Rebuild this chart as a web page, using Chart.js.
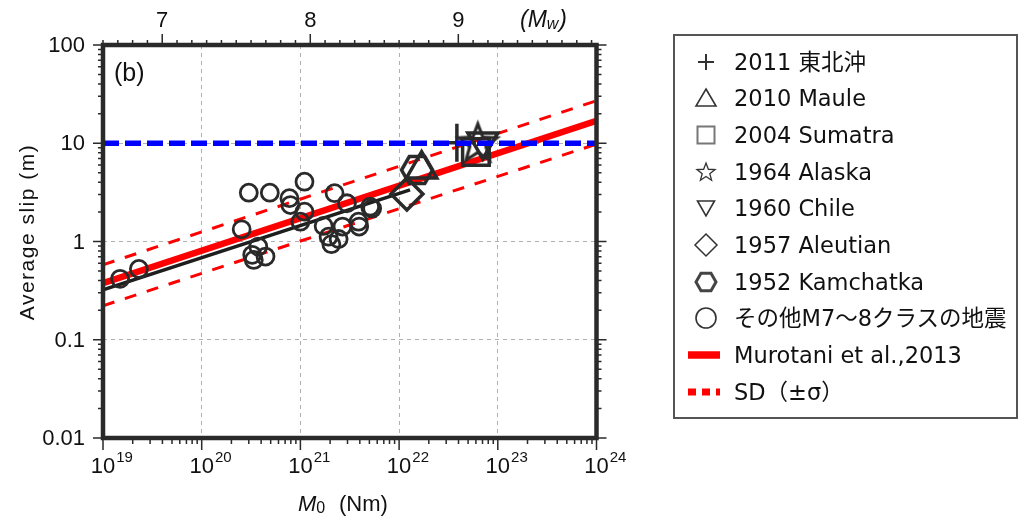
<!DOCTYPE html>
<html>
<head>
<meta charset="utf-8">
<script src="https://cdn.jsdelivr.net/npm/chart.js@4.4.0/dist/chart.umd.min.js"></script>
<style>
body { margin:0; background:#fff; }
#wrap { position:relative; width:1021px; height:516px; }
#legend { position:absolute; left:673px; top:34px; width:345px; height:385px; border:2px solid #555; box-sizing:border-box;
  font-family:"DejaVu Sans","Noto Sans CJK JP",sans-serif; font-size:22.5px; color:#111; }
.row { position:absolute; left:0; width:100%; height:36px; }
.row svg { position:absolute; left:11px; top:0; }
.row span { position:absolute; left:59px; top:0; line-height:36px; white-space:nowrap; }
</style>
</head>
<body>
<div id="wrap">
  <canvas id="chart" width="1021" height="516"></canvas>
  <div id="legend"></div>
</div>
<script>
// 巨大地震 (M0 [Nm], 平均すべり量 [m])
const eventNames = ["2011 東北沖", "2010 Maule", "2004 Sumatra", "1964 Alaska", "1960 Chile", "1957 Aleutian", "1952 Kamchatka"];
const eventM0    = [3.85e22, 1.69e22, 6.0e22, 6.28e22, 7.05e22, 1.2e22, 1.52e22];
const eventSlip  = [10.1, 5.45, 8.15, 9.84, 10.4, 3.05, 5.35];

// その他M7〜8クラスの地震
const otherM0   = [1.49e19, 2.31e19, 2.54e20, 3.0e20, 4.9e20, 7.74e20, 7.92e20, 1.10e21, 1.10e21, 1.0e21,
                   3.74e20, 3.25e20, 4.43e20, 3.37e20, 2.22e21, 2.96e21, 1.72e21, 2.67e21, 1.93e21, 2.44e21,
                   2.06e21, 3.88e21, 3.94e21, 5.09e21, 5.33e21];
const otherSlip = [0.417, 0.526, 1.33, 3.14, 3.14, 2.76, 2.35, 4.06, 2.01, 1.59,
                   0.887, 0.731, 0.702, 0.650, 3.10, 2.45, 1.44, 1.42, 1.12, 1.06,
                   0.94, 1.59, 1.42, 2.26, 2.17];

// Murotani et al. (2013) と ±σ
const fitM0     = [1e19, 1e24];
const fitSlip   = [0.377, 16.9];
const sdUpper   = [0.58, 27.1];
const sdLower   = [0.222, 9.8];
// 黒線
const regM0     = [1e19, 1.29e22];
const regSlip   = [0.322, 3.35];
// 10 m 線
const refM0     = [1e19, 1e24];
const refSlip   = [10, 10];

// 軸
const yTicks      = [0.01, 0.1, 1, 10, 100];
const yTickLabels = ["0.01", "0.1", "1", "10", "100"];
const xTicks      = [1e19, 1e20, 1e21, 1e22, 1e23, 1e24];
const xTickExp    = ["19", "20", "21", "22", "23", "24"];
const mwTicks     = [7, 8, 9];

const legendLabels  = eventNames.concat(["その他M7～8クラスの地震", "Murotani et al.,2013", "SD（±σ）"]);
const legendSymbols = ["plus", "tri", "square", "star", "triDown", "diamond", "hex", "circle", "line", "dash"];

const INK = "#2a2a2a";
const FONT = '"Liberation Sans", Arial, sans-serif';

function starCanvas(outer, inner, lw) {
  const s = Math.ceil(2 * (outer + lw * 2)) + 2;
  const c = document.createElement("canvas");
  c.width = c.height = s;
  const g = c.getContext("2d");
  g.strokeStyle = INK; g.lineWidth = lw; g.miterLimit = 4;
  g.beginPath();
  for (let i = 0; i < 10; i++) {
    const r = i % 2 ? inner : outer;
    const a = -Math.PI / 2 + i * Math.PI / 5;
    g.lineTo(s / 2 + r * Math.cos(a), s / 2 + r * Math.sin(a));
  }
  g.closePath(); g.stroke();
  return c;
}
function hexCanvas(r, lw) {
  const s = Math.ceil(2 * (r + lw)) + 2;
  const c = document.createElement("canvas");
  c.width = c.height = s;
  const g = c.getContext("2d");
  g.strokeStyle = INK; g.lineWidth = lw;
  g.beginPath();
  for (let i = 0; i < 6; i++) {
    const a = i * Math.PI / 3;
    g.lineTo(s / 2 + r * Math.cos(a), s / 2 + r * Math.sin(a));
  }
  g.closePath(); g.stroke();
  return c;
}

const eventStyle  = ["cross", "triangle", "rect", starCanvas(20, 8.5, 3.2), "triangle", "rectRot", hexCanvas(15.5, 3.5)];
const eventRadius = [19, 17.5, 18.8, 20, 17.3, 16, 15.5];
const eventRot    = [0, 0, 0, 0, 180, 0, 0];

const pts = (xs, ys) => xs.map((v, i) => ({ x: v, y: ys[i] }));
const lineSet = (data, color, width, dash, order) => ({
  data, showLine: true, borderColor: color, borderWidth: width, borderDash: dash,
  pointRadius: 0, pointHoverRadius: 0, fill: false, order
});

// 軸の目盛りと文字
const axisDecor = {
  id: "axisDecor",
  afterDraw(chart) {
    const { ctx, chartArea: a, scales } = chart;
    const x = scales.x, y = scales.y, mw = scales.mw;
    ctx.save();
    ctx.strokeStyle = INK;
    ctx.lineWidth = 1.5;
    ctx.beginPath();
    for (let d = -2; d <= 2; d++) {
      for (let k = 1; k <= 9; k++) {
        const v = k * Math.pow(10, d);
        if (v > 100) break;
        const py = y.getPixelForValue(v);
        const len = k === 1 ? 10 : 5;
        ctx.moveTo(a.left, py); ctx.lineTo(a.left - len, py);
        ctx.moveTo(a.right, py); ctx.lineTo(a.right + len, py);
      }
    }
    for (let d = 19; d <= 24; d++) {
      for (let k = 1; k <= 9; k++) {
        if (d === 24 && k > 1) break;
        const px = x.getPixelForValue(k * Math.pow(10, d));
        const len = k === 1 ? 12 : 6;
        ctx.moveTo(px, a.bottom); ctx.lineTo(px, a.bottom + len);
      }
    }
    for (let i = 66; i <= 99; i++) {
      const px = mw.getPixelForValue(i / 10);
      const len = i % 10 === 0 ? 11 : 5;
      ctx.moveTo(px, a.top); ctx.lineTo(px, a.top - len);
    }
    ctx.stroke();

    // 枠
    ctx.lineWidth = 4.5;
    ctx.strokeRect(a.left, a.top, a.right - a.left, a.bottom - a.top);

    ctx.fillStyle = "#111";
    ctx.font = "22px " + FONT;
    ctx.textAlign = "right"; ctx.textBaseline = "middle";
    yTicks.forEach((v, i) => ctx.fillText(yTickLabels[i], a.left - 18, y.getPixelForValue(v) + 1));

    ctx.textBaseline = "alphabetic";
    xTicks.forEach((v, i) => {
      const px = x.getPixelForValue(v);
      ctx.font = "22px " + FONT; ctx.textAlign = "center";
      ctx.fillText("10", px, 473);
      const w = ctx.measureText("10").width;
      ctx.font = "15px " + FONT; ctx.textAlign = "left";
      ctx.fillText(xTickExp[i], px + w / 2 + 1, 462);
    });

    ctx.font = "22px " + FONT; ctx.textAlign = "center";
    mwTicks.forEach(v => ctx.fillText(String(v), mw.getPixelForValue(v), 27));

    // (Mw)
    ctx.textAlign = "left";
    let cx = 520;
    ctx.font = "italic 23px " + FONT;
    ctx.fillText("(M", cx, 27); cx += ctx.measureText("(M").width;
    ctx.font = "italic 16px " + FONT;
    ctx.fillText("w", cx, 29); cx += ctx.measureText("w").width + 1;
    ctx.font = "italic 23px " + FONT;
    ctx.fillText(")", cx, 27);

    // M0 (Nm)
    cx = 298;
    ctx.font = "italic 22px " + FONT;
    ctx.fillText("M", cx, 511); cx += ctx.measureText("M").width;
    ctx.font = "16px " + FONT;
    ctx.fillText("0", cx, 513);
    ctx.font = "22px " + FONT;
    ctx.fillText("(Nm)", 339, 511);

    // (b)
    ctx.font = "25px " + FONT;
    ctx.fillText("(b)", 114, 81);

    // Average slip (m)
    ctx.save();
    ctx.translate(28, 232);
    ctx.rotate(-Math.PI / 2);
    ctx.font = "21px " + FONT;
    ctx.letterSpacing = "1.5px";
    ctx.textAlign = "center"; ctx.textBaseline = "middle";
    ctx.fillText("Average slip (m)", 0, 0);
    ctx.restore();
    ctx.restore();
  }
};

new Chart(document.getElementById("chart"), {
  type: "scatter",
  data: {
    datasets: [
      lineSet(pts(refM0, refSlip), "#0000ff", 5.5, [16, 6], 0),
      {
        data: pts(eventM0, eventSlip), pointStyle: eventStyle, pointRadius: eventRadius,
        pointRotation: eventRot, pointBorderColor: INK, pointBorderWidth: 3.5,
        pointBackgroundColor: "rgba(0,0,0,0)", pointHoverRadius: eventRadius, order: 1
      },
      {
        data: pts(otherM0, otherSlip), pointStyle: "circle", pointRadius: 8.5, pointHoverRadius: 8.5,
        pointBorderColor: INK, pointBorderWidth: 2.8, pointBackgroundColor: "rgba(0,0,0,0)", order: 2
      },
      lineSet(pts(regM0, regSlip), "#1e1e1e", 3.5, [], 3),
      lineSet(pts(fitM0, fitSlip), "#ff0000", 6.5, [], 4),
      lineSet(pts(fitM0, sdUpper), "#ff0000", 3, [12, 11], 5),
      lineSet(pts(fitM0, sdLower), "#ff0000", 3, [12, 11], 6)
    ]
  },
  options: {
    responsive: false,
    animation: false,
    layout: { padding: { left: 0, top: 0, bottom: 0, right: 424.5 } },
    plugins: { legend: { display: false }, tooltip: { enabled: false } },
    events: [],
    scales: {
      x: {
        type: "logarithmic", position: "bottom", min: 1e19, max: 1e24,
        afterBuildTicks: s => { s.ticks = xTicks.map(v => ({ value: v })); },
        afterFit: s => { s.height = 78; },
        ticks: { display: false },
        grid: { color: "#b0b0b0", lineWidth: 1, drawTicks: false },
        border: { display: false, dash: [4, 4] }
      },
      mw: {
        axis: "x", type: "linear", position: "top", min: 6.6, max: 29.8 / 3,
        afterFit: s => { s.height = 45; },
        ticks: { display: false },
        grid: { display: false, drawTicks: false },
        border: { display: false }
      },
      y: {
        type: "logarithmic", position: "left", min: 0.01, max: 100,
        afterBuildTicks: s => { s.ticks = yTicks.map(v => ({ value: v })); },
        afterFit: s => { s.width = 103; },
        ticks: { display: false },
        grid: { color: "#b0b0b0", lineWidth: 1, drawTicks: false },
        border: { display: false, dash: [4, 4] }
      }
    }
  },
  plugins: [axisDecor]
});

// 凡例
function symbolSvg(kind) {
  const sw = 'fill="none" stroke="#333"';
  let body = "";
  switch (kind) {
    case "plus": body = `<path d="M12 18H28M20 10V26" ${sw} stroke-width="2"/>`; break;
    case "tri": body = `<polygon points="20,9 30,26 10,26" ${sw} stroke-width="1.6"/>`; break;
    case "square": body = `<rect x="11.5" y="9.5" width="17" height="17" fill="none" stroke="#777" stroke-width="2"/>`; break;
    case "star": {
      const p = [];
      for (let i = 0; i < 10; i++) {
        const r = i % 2 ? 4 : 9.5, a = -Math.PI / 2 + i * Math.PI / 5;
        p.push((20 + r * Math.cos(a)).toFixed(2) + "," + (18.5 + r * Math.sin(a)).toFixed(2));
      }
      body = `<polygon points="${p.join(" ")}" ${sw} stroke-width="1.3"/>`; break;
    }
    case "triDown": body = `<polygon points="11.5,11 28.5,11 20,26" ${sw} stroke-width="1.6"/>`; break;
    case "diamond": body = `<polygon points="20,7 31,18 20,29 9,18" ${sw} stroke-width="1.5"/>`; break;
    case "hex": body = `<polygon points="30,18 25,9.3 15,9.3 10,18 15,26.7 25,26.7" fill="none" stroke="#444" stroke-width="3"/>`; break;
    case "circle": body = `<circle cx="20" cy="18" r="10" ${sw} stroke-width="1.6"/>`; break;
    case "line": body = `<line x1="2" y1="18" x2="34" y2="18" stroke="#ff0000" stroke-width="7.5"/>`; break;
    case "dash": body = `<line x1="2" y1="18" x2="34" y2="18" stroke="#ff0000" stroke-width="7" stroke-dasharray="8 6"/>`; break;
  }
  return `<svg width="40" height="36" viewBox="0 0 40 36">${body}</svg>`;
}
const legend = document.getElementById("legend");
legendLabels.forEach((label, i) => {
  const row = document.createElement("div");
  row.className = "row";
  row.style.top = (25.7 + i * 36.67 - 18) + "px";
  row.innerHTML = symbolSvg(legendSymbols[i]) + "<span></span>";
  row.querySelector("span").textContent = label;
  legend.appendChild(row);
});
</script>
</body>
</html>
